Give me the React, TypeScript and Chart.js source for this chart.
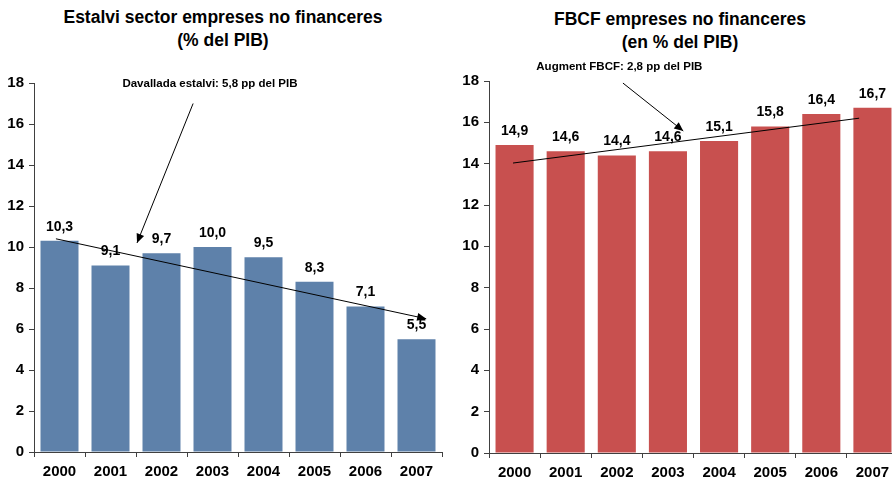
import React, { useEffect, useRef } from "react";
import { Chart, registerables } from "chart.js";

Chart.register(...registerables);

const years = ["2000", "2001", "2002", "2003", "2004", "2005", "2006", "2007"];
const savingValues = [10.3, 9.1, 9.7, 10.0, 9.5, 8.3, 7.1, 5.5];
const fbcfValues = [14.9, 14.6, 14.4, 14.6, 15.1, 15.8, 16.4, 16.7];
const yMin = 0;
const yMax = 18;
const yStep = 2;

// annotation coordinates in data space: [categoryIndex, value]
const savingTrend = [[-0.07, 10.4], [7.19, 6.5]];
const savingNote = "Davallada estalvi: 5,8 pp del PIB";
const savingNotePos = [2.95, 17.95];
const savingNoteArrow = [[2.62, 17.0], [1.52, 10.2]];

const fbcfTrend = [[-0.03, 14.03], [6.74, 16.2]];
const fbcfNote = "Augment FBCF: 2,8 pp del PIB";
const fbcfNotePos = [2.05, 18.7];
const fbcfNoteArrow = [[2.12, 17.9], [3.3, 15.58]];

const FONT = "'Liberation Sans', Arial, sans-serif";
const AXIS = "#404040";

function arrowHead(ctx: CanvasRenderingContext2D, x1: number, y1: number, x2: number, y2: number) {
  const a = Math.atan2(y2 - y1, x2 - x1);
  const len = 9;
  const w = 4;
  ctx.beginPath();
  ctx.moveTo(x2, y2);
  ctx.lineTo(x2 - len * Math.cos(a) + w * Math.sin(a), y2 - len * Math.sin(a) - w * Math.cos(a));
  ctx.lineTo(x2 - len * Math.cos(a) - w * Math.sin(a), y2 - len * Math.sin(a) + w * Math.cos(a));
  ctx.closePath();
  ctx.fill();
}

function makePlugin(opts: any) {
  return {
    id: "annot",
    afterDatasetsDraw(chart: any) {
      const ctx = chart.ctx as CanvasRenderingContext2D;
      const xs = chart.scales.x;
      const ys = chart.scales.y;
      const px = (p: number[]) => [xs.getPixelForValue(p[0]), ys.getPixelForValue(p[1])];
      ctx.save();
      // data labels
      ctx.fillStyle = "#000";
      ctx.font = `bold 14px ${FONT}`;
      ctx.textAlign = "center";
      ctx.textBaseline = "middle";
      const meta = chart.getDatasetMeta(0);
      meta.data.forEach((bar: any, i: number) => {
        const v = chart.data.datasets[0].data[i] as number;
        ctx.fillText(v.toFixed(1).replace(".", ","), bar.x, bar.y - 14);
      });
      // trend line
      ctx.strokeStyle = "#000";
      ctx.lineWidth = 1;
      const [a, b] = opts.trend.map(px);
      ctx.beginPath();
      ctx.moveTo(a[0], a[1]);
      ctx.lineTo(b[0], b[1]);
      ctx.stroke();
      if (opts.trendArrow) arrowHead(ctx, a[0], a[1], b[0], b[1]);
      // note arrow
      const [c, d] = opts.noteArrow.map(px);
      ctx.beginPath();
      ctx.moveTo(c[0], c[1]);
      ctx.lineTo(d[0], d[1]);
      ctx.stroke();
      arrowHead(ctx, c[0], c[1], d[0], d[1]);
      // note text
      const t = px(opts.notePos);
      ctx.font = `bold 11.5px ${FONT}`;
      ctx.fillText(opts.note, t[0], t[1]);
      ctx.restore();
    },
  };
}

function makeConfig(values: number[], color: string, yWidth: number, top: number, bottom: number, right: number, plugin: any): any {
  return {
    type: "bar",
    data: {
      labels: years,
      datasets: [
        {
          data: values,
          backgroundColor: color,
          borderWidth: 0,
          categoryPercentage: 1,
          barPercentage: 0.745,
        },
      ],
    },
    options: {
      responsive: false,
      animation: false,
      devicePixelRatio: 1,
      layout: { padding: { top, left: 0, right, bottom: 0 } },
      plugins: { legend: { display: false }, title: { display: false }, tooltip: { enabled: false } },
      scales: {
        x: {
          grid: { display: true, drawOnChartArea: false, drawTicks: true, tickLength: 5, color: AXIS, offset: true },
          border: { display: true, color: AXIS, width: 1 },
          ticks: { color: "#000", font: { family: FONT, size: 15, weight: "bold" }, padding: 6, maxRotation: 0 },
          afterFit: (s: any) => {
            s.height = bottom;
          },
        },
        y: {
          min: yMin,
          max: yMax,
          grid: { display: true, drawOnChartArea: false, drawTicks: true, tickLength: 5, color: AXIS },
          border: { display: true, color: AXIS, width: 1 },
          ticks: { stepSize: yStep, color: "#000", font: { family: FONT, size: 15, weight: "bold" }, padding: 5 },
          afterFit: (s: any) => {
            s.width = yWidth;
          },
        },
      },
    },
    plugins: [plugin],
  };
}

const titleStyle: React.CSSProperties = {
  position: "absolute",
  textAlign: "center",
  fontFamily: FONT,
  fontWeight: "bold",
  fontSize: 17.5,
  lineHeight: "23px",
  color: "#000",
  whiteSpace: "nowrap",
};

export default function App() {
  const leftRef = useRef<HTMLCanvasElement>(null);
  const rightRef = useRef<HTMLCanvasElement>(null);

  useEffect(() => {
    const left = new Chart(
      leftRef.current!,
      makeConfig(
        savingValues,
        "#5E81AA",
        34,
        83,
        30,
        4,
        makePlugin({ trend: savingTrend, trendArrow: true, note: savingNote, notePos: savingNotePos, noteArrow: savingNoteArrow })
      )
    );
    const right = new Chart(
      rightRef.current!,
      makeConfig(
        fbcfValues,
        "#C8504F",
        43,
        81,
        29,
        8,
        makePlugin({ trend: fbcfTrend, trendArrow: false, note: fbcfNote, notePos: fbcfNotePos, noteArrow: fbcfNoteArrow })
      )
    );
    return () => {
      left.destroy();
      right.destroy();
    };
  }, []);

  return (
    <div style={{ position: "absolute", left: 0, top: 0, width: 892, height: 482, overflow: "hidden", background: "#fff" }}>
      <div style={{ ...titleStyle, left: 0, width: 446, top: 6 }}>
        Estalvi sector empreses no financeres
        <br />
        (% del PIB)
      </div>
      <div style={{ ...titleStyle, left: 446, width: 468, top: 8 }}>
        FBCF empreses no financeres
        <br />
        (en % del PIB)
      </div>
      <canvas ref={leftRef} width={446} height={482} style={{ position: "absolute", left: 0, top: 0 }} />
      <canvas ref={rightRef} width={460} height={482} style={{ position: "absolute", left: 446, top: 0 }} />
    </div>
  );
}
